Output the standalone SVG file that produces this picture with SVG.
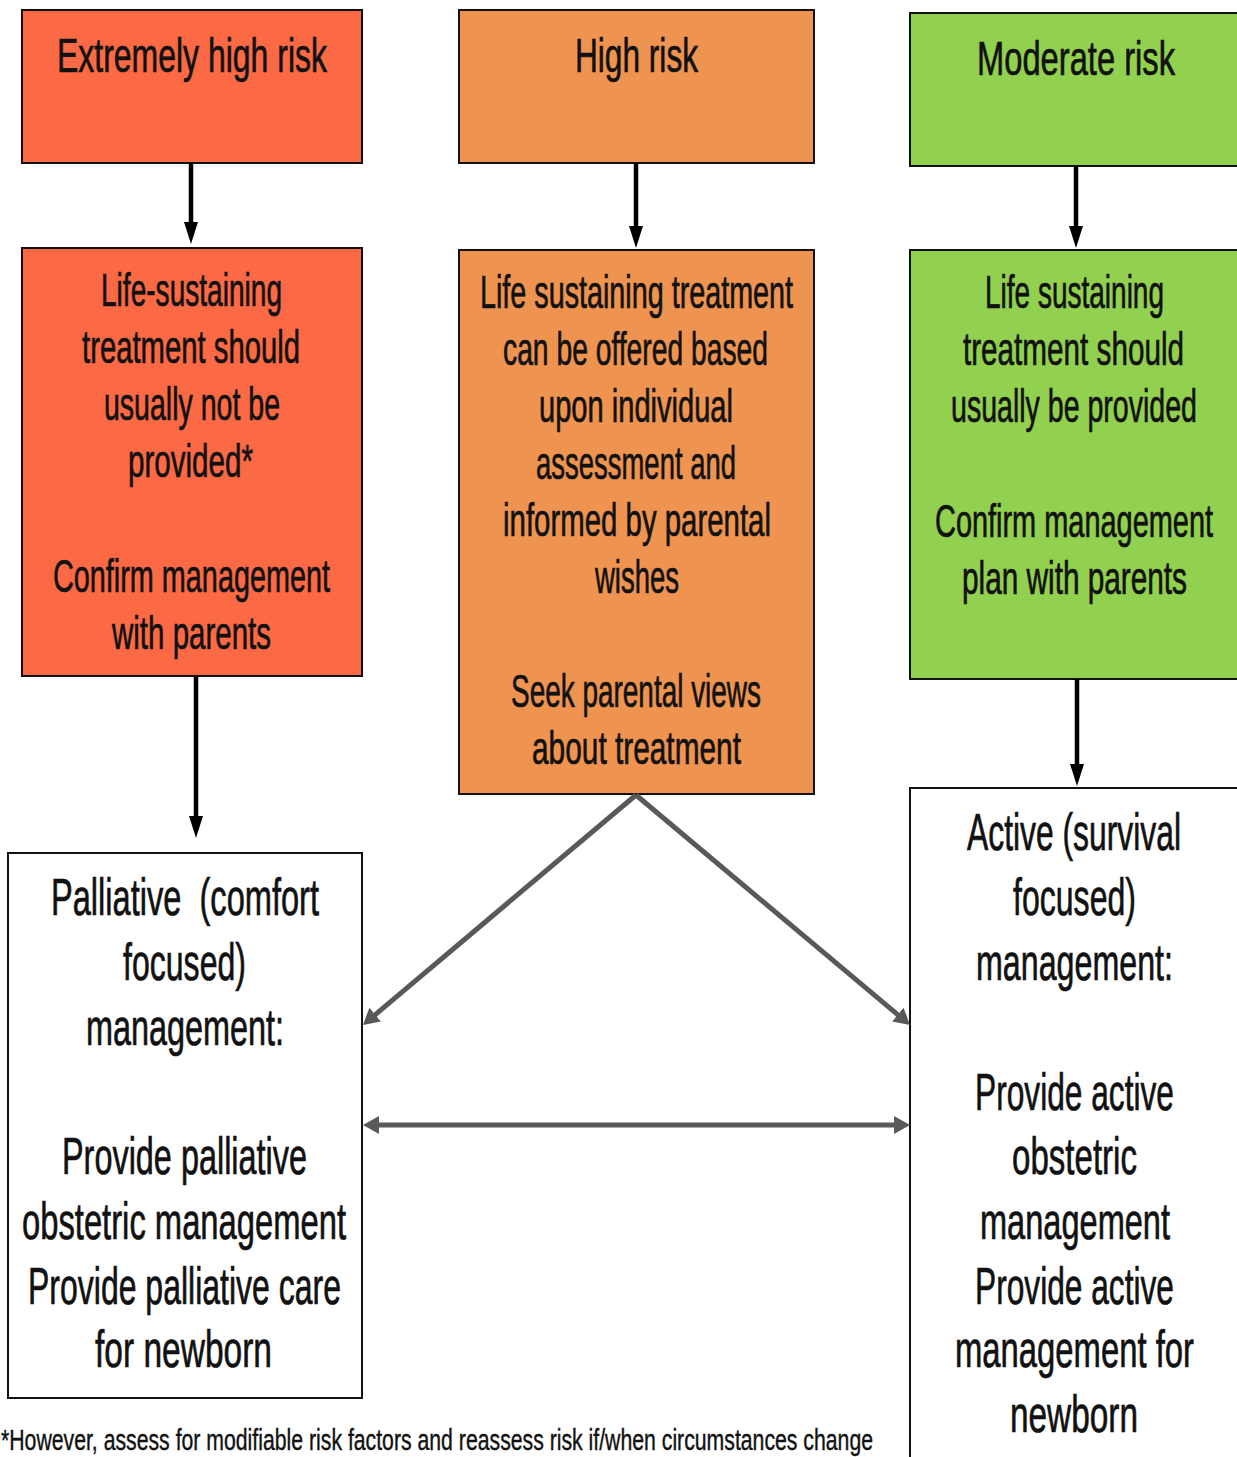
<svg xmlns="http://www.w3.org/2000/svg" width="1237" height="1457" viewBox="0 0 1237 1457">
<style>
text{font-family:"Liberation Sans",Arial,sans-serif;fill:#111;stroke:#111;stroke-width:0.7;}
.t{font-size:49px;}
.b{font-size:46px;}
.w{font-size:52px;}
.f{font-size:29px;stroke-width:0.4;}
.box{stroke:#111;stroke-width:2;}
.red{fill:#FC6A45;}
.org{fill:#EF9450;}
.grn{fill:#92D050;}
.wht{fill:#fff;}
.blk{stroke:#000;stroke-width:4.5;fill:none;}
.gry{stroke:#595959;stroke-width:5;fill:none;}
</style>
<defs>
<marker id="ah" viewBox="0 0 22 14" refX="10" refY="7" markerWidth="22" markerHeight="14" markerUnits="userSpaceOnUse" orient="auto"><path d="M0,0 L22,7 L0,14 z" fill="#000"/></marker>
<marker id="gh" viewBox="0 0 16 18" refX="8" refY="9" markerWidth="16" markerHeight="18" markerUnits="userSpaceOnUse" orient="auto-start-reverse"><path d="M0,0 L16,9 L0,18 z" fill="#595959"/></marker>
</defs>
<rect width="1237" height="1457" fill="#fff"/>
<g id="n-extreme">
<rect class="box red" x="22" y="10" width="340" height="153"/>
<text class="t" x="57" y="72" textLength="270" lengthAdjust="spacingAndGlyphs">Extremely high risk</text>
</g>
<g id="n-high">
<rect class="box org" x="459" y="10" width="355" height="153"/>
<text class="t" x="575" y="72" textLength="123" lengthAdjust="spacingAndGlyphs">High risk</text>
</g>
<g id="n-moderate">
<rect class="box grn" x="910" y="13" width="340" height="153"/>
<text class="t" x="977" y="75" textLength="198" lengthAdjust="spacingAndGlyphs">Moderate risk</text>
</g>
<g id="n-extreme-plan">
<rect class="box red" x="22" y="248" width="340" height="428"/>
<text class="b" x="101" y="306" textLength="181" lengthAdjust="spacingAndGlyphs">Life-sustaining</text>
<text class="b" x="82" y="363" textLength="218" lengthAdjust="spacingAndGlyphs">treatment should</text>
<text class="b" x="104" y="420" textLength="176" lengthAdjust="spacingAndGlyphs">usually not be</text>
<text class="b" x="128" y="477" textLength="125" lengthAdjust="spacingAndGlyphs">provided*</text>
<text class="b" x="53" y="592" textLength="277" lengthAdjust="spacingAndGlyphs">Confirm management</text>
<text class="b" x="112" y="649" textLength="159" lengthAdjust="spacingAndGlyphs">with parents</text>
</g>
<g id="n-high-plan">
<rect class="box org" x="459" y="250" width="355" height="544"/>
<text class="b" x="480" y="308" textLength="313" lengthAdjust="spacingAndGlyphs">Life sustaining treatment</text>
<text class="b" x="503" y="365" textLength="265" lengthAdjust="spacingAndGlyphs">can be offered based</text>
<text class="b" x="539" y="422" textLength="194" lengthAdjust="spacingAndGlyphs">upon individual</text>
<text class="b" x="536" y="479" textLength="200" lengthAdjust="spacingAndGlyphs">assessment and</text>
<text class="b" x="503" y="536" textLength="268" lengthAdjust="spacingAndGlyphs">informed by parental</text>
<text class="b" x="595" y="593" textLength="84" lengthAdjust="spacingAndGlyphs">wishes</text>
<text class="b" x="511" y="707" textLength="250" lengthAdjust="spacingAndGlyphs">Seek parental views</text>
<text class="b" x="532" y="764" textLength="209" lengthAdjust="spacingAndGlyphs">about treatment</text>
</g>
<g id="n-moderate-plan">
<rect class="box grn" x="910" y="250" width="340" height="429"/>
<text class="b" x="985" y="308" textLength="179" lengthAdjust="spacingAndGlyphs">Life sustaining</text>
<text class="b" x="963" y="365" textLength="221" lengthAdjust="spacingAndGlyphs">treatment should</text>
<text class="b" x="951" y="422" textLength="246" lengthAdjust="spacingAndGlyphs">usually be provided</text>
<text class="b" x="935" y="537" textLength="278" lengthAdjust="spacingAndGlyphs">Confirm management</text>
<text class="b" x="962" y="594" textLength="225" lengthAdjust="spacingAndGlyphs">plan with parents</text>
</g>
<g id="n-palliative">
<rect class="box wht" x="8" y="853" width="354" height="545"/>
<text class="w" x="51" y="915" textLength="268" lengthAdjust="spacingAndGlyphs" style="white-space:pre">Palliative  (comfort</text>
<text class="w" x="123" y="980" textLength="123" lengthAdjust="spacingAndGlyphs">focused)</text>
<text class="w" x="86" y="1045" textLength="198" lengthAdjust="spacingAndGlyphs">management:</text>
<text class="w" x="62" y="1174" textLength="245" lengthAdjust="spacingAndGlyphs">Provide palliative</text>
<text class="w" x="22" y="1239" textLength="324" lengthAdjust="spacingAndGlyphs">obstetric management</text>
<text class="w" x="28" y="1304" textLength="313" lengthAdjust="spacingAndGlyphs">Provide palliative care</text>
<text class="w" x="95" y="1367" textLength="177" lengthAdjust="spacingAndGlyphs">for newborn</text>
</g>
<g id="n-active">
<rect class="box wht" x="910" y="788" width="340" height="680"/>
<text class="w" x="967" y="850" textLength="214" lengthAdjust="spacingAndGlyphs">Active (survival</text>
<text class="w" x="1013" y="915" textLength="123" lengthAdjust="spacingAndGlyphs">focused)</text>
<text class="w" x="976" y="980" textLength="197" lengthAdjust="spacingAndGlyphs">management:</text>
<text class="w" x="975" y="1110" textLength="199" lengthAdjust="spacingAndGlyphs">Provide active</text>
<text class="w" x="1012" y="1174" textLength="125" lengthAdjust="spacingAndGlyphs">obstetric</text>
<text class="w" x="980" y="1239" textLength="190" lengthAdjust="spacingAndGlyphs">management</text>
<text class="w" x="975" y="1304" textLength="199" lengthAdjust="spacingAndGlyphs">Provide active</text>
<text class="w" x="955" y="1367" textLength="239" lengthAdjust="spacingAndGlyphs">management for</text>
<text class="w" x="1010" y="1432" textLength="128" lengthAdjust="spacingAndGlyphs">newborn</text>
</g>
<g id="connectors">
<line class="blk" x1="191" y1="163" x2="191" y2="232" marker-end="url(#ah)"/>
<line class="blk" x1="636" y1="163" x2="636" y2="236" marker-end="url(#ah)"/>
<line class="blk" x1="1076" y1="166" x2="1076" y2="236" marker-end="url(#ah)"/>
<line class="blk" x1="196" y1="676" x2="196" y2="826" marker-end="url(#ah)"/>
<line class="blk" x1="1077" y1="679" x2="1077" y2="774" marker-end="url(#ah)"/>
<line class="gry" x1="636" y1="795" x2="369.1" y2="1019.8" marker-end="url(#gh)"/>
<line class="gry" x1="636" y1="795" x2="903.9" y2="1019.8" marker-end="url(#gh)"/>
<line class="gry" x1="371" y1="1125" x2="902" y2="1125" marker-start="url(#gh)" marker-end="url(#gh)"/>
</g>
<text class="f" x="1" y="1450" textLength="872" lengthAdjust="spacingAndGlyphs">*However, assess for modifiable risk factors and reassess risk if/when circumstances change</text>
</svg>
